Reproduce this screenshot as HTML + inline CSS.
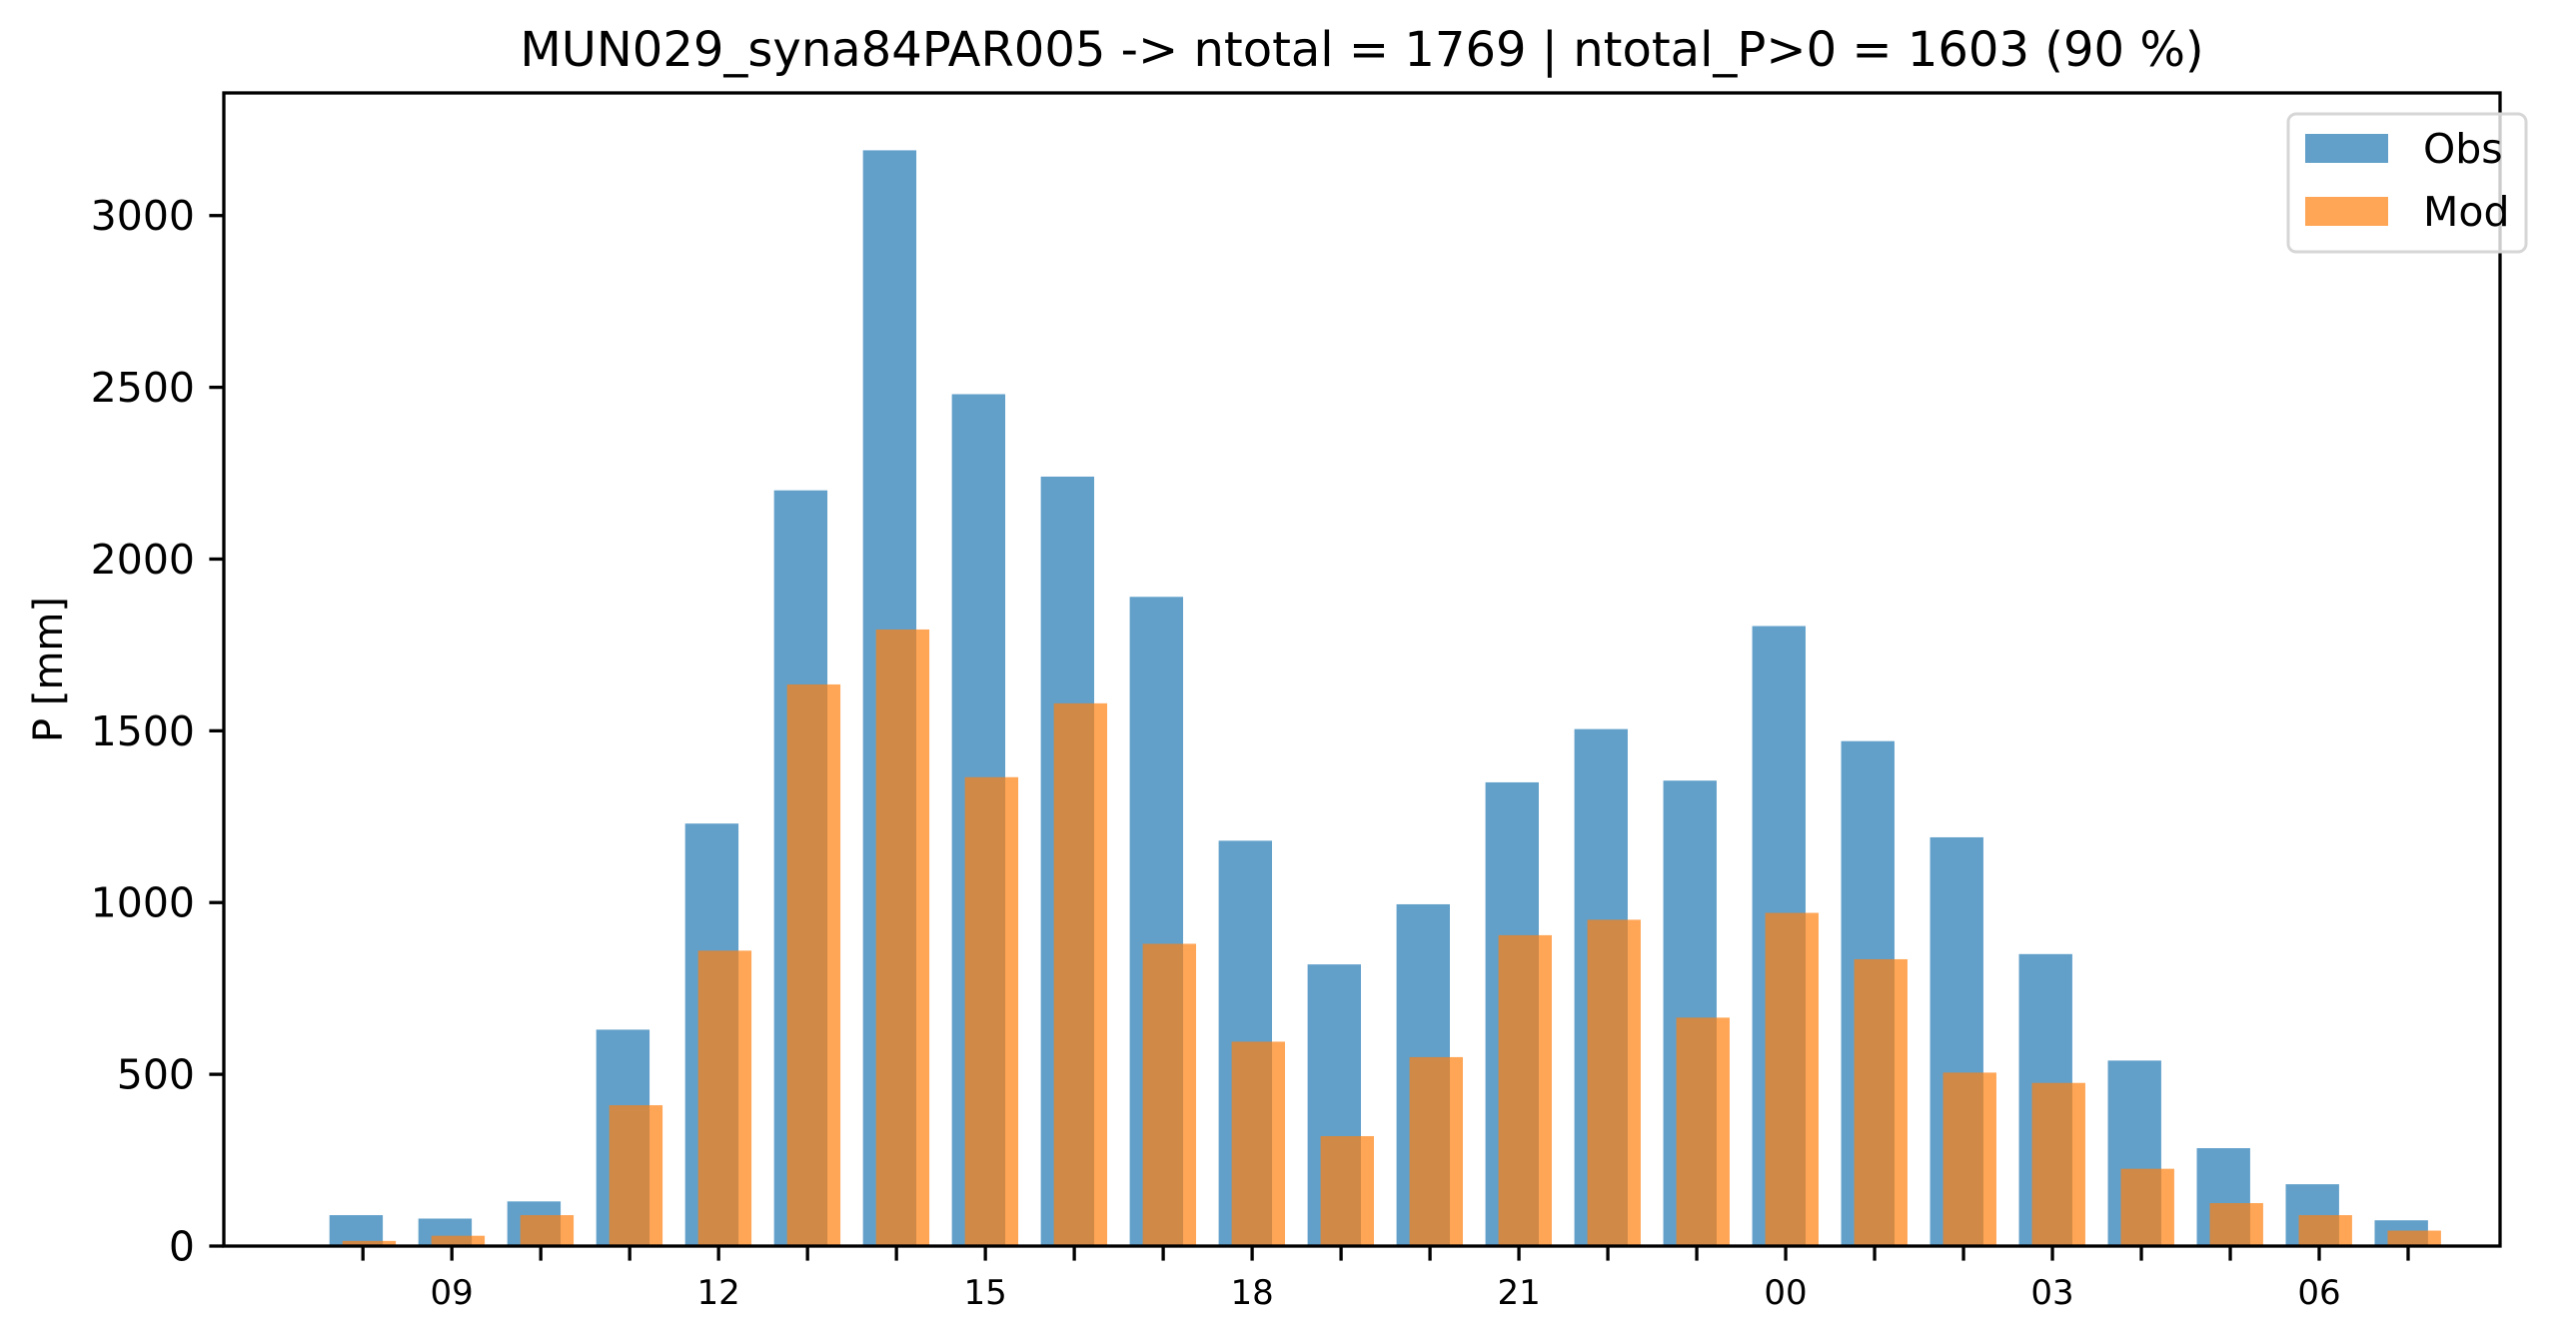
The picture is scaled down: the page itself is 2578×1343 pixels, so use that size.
<!DOCTYPE html>
<html><head><meta charset="utf-8"><style>
html,body{margin:0;padding:0;background:#fff;}
svg{display:block;font-family:"DejaVu Sans","Liberation Sans",sans-serif;}
</style></head><body>
<svg id="chart" xmlns="http://www.w3.org/2000/svg" width="2578" height="1343" viewBox="0 0 2578 1343">
<rect width="2578" height="1343" fill="#fff"/>
<text x="1363" y="66" font-size="48" text-anchor="middle" fill="#000">MUN029_syna84PAR005 -&gt; ntotal = 1769 | ntotal_P&gt;0 = 1603 (90 %)</text>
<g id="bars"></g>
<g id="axes"></g>
<text transform="translate(62,670) rotate(-90)" font-size="40" text-anchor="middle" fill="#000">P [mm]</text>
<g>
<rect x="2290" y="114" width="238" height="138" rx="8" fill="#fff" fill-opacity="0.8" stroke="#d6d6d6" stroke-width="3"/>
<rect x="2307" y="134" width="83" height="29" fill="#1f77b4" fill-opacity="0.7"/>
<text x="2425" y="163" font-size="41" fill="#000">Obs</text>
<rect x="2307" y="197" width="83" height="29" fill="#ff7f0e" fill-opacity="0.7"/>
<text x="2425" y="226" font-size="41" fill="#000">Mod</text>
</g>
</svg>
<script>
const hours = ["08","09","10","11","12","13","14","15","16","17","18","19","20","21","22","23","00","01","02","03","04","05","06","07"];
const obsValues = [90,80,130,630,1230,2200,3190,2480,2240,1890,1180,820,995,1350,1505,1355,1805,1470,1190,850,540,285,180,75];
const modValues = [15,30,90,410,860,1635,1795,1365,1580,880,595,320,550,905,950,665,970,835,505,475,225,125,90,45];
const yTicks = [0,500,1000,1500,2000,2500,3000];
const xLabelEvery = 3;

const L=224,R=2502,T=93,B=1247,yMax=3357;
const x0=363.2, step=(2410-363.2)/23;
const xPos=i=>x0+i*step;
const yPos=v=>B-(v/yMax)*(B-T);
const NS="http://www.w3.org/2000/svg";
function mk(tag,attrs,parent){const e=document.createElementNS(NS,tag);for(const k in attrs)e.setAttribute(k,attrs[k]);parent.appendChild(e);return e;}
const bars=document.getElementById('bars'), axes=document.getElementById('axes');
const bw=step*0.6;
hours.forEach((h,i)=>{
  const b=mk('rect',{x:xPos(i)-33.5,y:yPos(obsValues[i]),width:bw,height:B-yPos(obsValues[i]),fill:'#1f77b4','fill-opacity':0.7},bars);
  
  
});
hours.forEach((h,i)=>{
  const b=mk('rect',{x:xPos(i)-20.5,y:yPos(modValues[i]),width:bw,height:B-yPos(modValues[i]),fill:'#ff7f0e','fill-opacity':0.7},bars);
  
  
});
const frame=mk('rect',{x:L,y:T,width:R-L,height:B-T,fill:'none',stroke:'#000','stroke-width':3.3},axes);


yTicks.forEach(v=>{
  const y=yPos(v);
  const t=mk('line',{x1:L-14.6,x2:L,y1:y,y2:y,stroke:'#000','stroke-width':3.3},axes);
  
  
  const lb=mk('text',{x:L-29,y:y+14.5,'font-size':41,'text-anchor':'end',fill:'#000'},axes);
  lb.textContent=v;
  
  
});
hours.forEach((h,i)=>{
  const x=xPos(i);
  const t=mk('line',{x1:x,x2:x,y1:B,y2:B+14.6,stroke:'#000','stroke-width':3.3},axes);
  
  
  if(i%xLabelEvery===1){
    const lb=mk('text',{x:x,y:1305,'font-size':34,'text-anchor':'middle',fill:'#000'},axes);
    lb.textContent=h;
    
    
  }
});
</script>
</body></html>
